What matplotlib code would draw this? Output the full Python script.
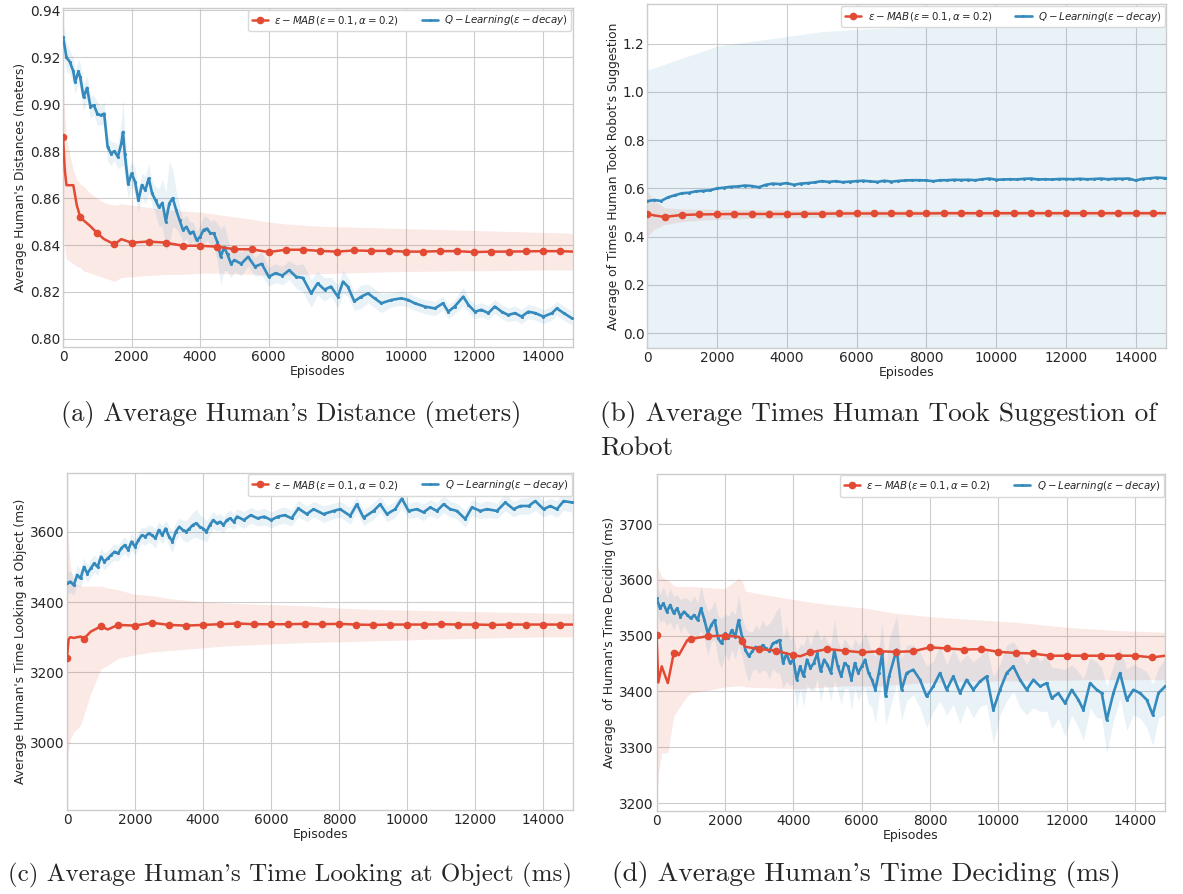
"""
Four-panel comparison of e-MAB and Q-Learning over training episodes
"""
import matplotlib
matplotlib.use('Agg')
import matplotlib.pyplot as plt
import numpy as np

RED = '#E24A33'
BLUE = '#348ABD'
MAB_LABEL = r'$\epsilon-MAB(\epsilon=0.1,\alpha=0.2)$'
QL_LABEL = r'$Q-Learning(\epsilon-decay)$'

# ---------------- (a) distance ----------------
a_red_x = [0, 50, 100, 300, 400, 500, 600, 800, 1000, 1200, 1500, 1700] + \
    list(range(2000, 15000, 500)) + [14880]
a_red_y = [0.886, 0.872, 0.8655, 0.8655, 0.857, 0.852, 0.8505, 0.848, 0.845, 0.8425, 0.8403, 0.8425,
           0.841, 0.8415, 0.841, 0.8397, 0.8397, 0.8393, 0.8382, 0.8382, 0.837, 0.838, 0.838, 0.8375,
           0.8372, 0.8377, 0.8375, 0.8375, 0.8372, 0.8372, 0.8374, 0.8374, 0.837, 0.8372, 0.8372,
           0.8373, 0.8374, 0.8374, 0.8372]
a_red_hi = [0.91, 0.895, 0.885, 0.872, 0.868, 0.866, 0.865, 0.862, 0.860, 0.858, 0.857, 0.8575,
            0.857, 0.856, 0.855, 0.8545, 0.854, 0.853, 0.852, 0.851, 0.8498, 0.849, 0.8485, 0.848,
            0.8478, 0.8476, 0.8474, 0.8472, 0.847, 0.8468, 0.8466, 0.8464, 0.8462, 0.846, 0.8458,
            0.8456, 0.8454, 0.8452, 0.845]
a_red_lo = [0.85, 0.838, 0.834, 0.832, 0.831, 0.8305, 0.829, 0.828, 0.827, 0.826, 0.8245, 0.8262,
            0.8265, 0.827, 0.8275, 0.8275, 0.828, 0.828, 0.8276, 0.8276, 0.8272, 0.8272, 0.8275,
            0.8278, 0.828, 0.8282, 0.8284, 0.8286, 0.8287, 0.8288, 0.8289, 0.829, 0.829, 0.8291,
            0.8292, 0.8293, 0.8294, 0.8294, 0.8294]
a_blue_x = [0, 100, 200, 300, 350, 450, 500, 600, 700, 800, 900, 1000, 1100, 1200, 1300, 1400,
            1500, 1600, 1700, 1750, 1800, 1900, 2000, 2100, 2200, 2300, 2400, 2500, 2600, 2700,
            2800, 2900, 3000, 3100, 3200, 3300, 3400, 3500, 3600, 3700, 3800, 3900, 4000, 4100,
            4200, 4300, 4400, 4500, 4600, 4700, 4800, 4900, 5000, 5200, 5400, 5600, 5800, 6000,
            6200, 6400, 6600, 6800, 7000, 7240, 7430, 7630, 7820, 8020, 8170, 8310, 8500, 8700,
            8900, 9090, 9290, 9580, 9870, 10070, 10260, 10550, 10850, 11090, 11240, 11430, 11680,
            11830, 12020, 12210, 12410, 12600, 12800, 12990, 13190, 13380, 13580, 13780, 14020,
            14270, 14410, 14610, 14850]
a_blue_y = [0.9287, 0.920, 0.918, 0.914, 0.9095, 0.914, 0.9116, 0.903, 0.907, 0.8989,
            0.8996, 0.896, 0.8953, 0.896, 0.8818, 0.879, 0.880, 0.8776, 0.8833, 0.8882,
            0.879, 0.866, 0.8705, 0.867, 0.859, 0.8656, 0.8634, 0.8684, 0.862, 0.859,
            0.856, 0.858, 0.850, 0.8577, 0.860, 0.855, 0.8506, 0.8464, 0.8478, 0.845,
            0.8457, 0.842, 0.8435, 0.8464, 0.847, 0.845, 0.845, 0.8414, 0.835, 0.839,
            0.836, 0.832, 0.8336, 0.832, 0.835, 0.8308, 0.832, 0.8265, 0.828, 0.827,
            0.8293, 0.8265, 0.826, 0.8194, 0.8237, 0.821, 0.8223, 0.818, 0.8244, 0.8223,
            0.816, 0.818, 0.8194, 0.8173, 0.8152, 0.8166, 0.8173, 0.8166, 0.8152, 0.8138,
            0.813, 0.8152, 0.8116, 0.8138, 0.818, 0.8145, 0.8116, 0.8124, 0.811, 0.8138,
            0.8116, 0.8102, 0.811, 0.8095, 0.8116, 0.811, 0.8095, 0.811, 0.813, 0.811, 0.8088]
a_blue_err = [0.006, 0.006, 0.005, 0.006, 0.005, 0.005, 0.006, 0.006, 0.005, 0.005,
              0.004, 0.005, 0.004, 0.005, 0.006, 0.005, 0.004, 0.005, 0.010, 0.014,
              0.010, 0.006, 0.005, 0.006, 0.005, 0.005, 0.006, 0.006, 0.005, 0.006,
              0.008, 0.010, 0.012, 0.018, 0.012, 0.008, 0.006, 0.005, 0.005, 0.005,
              0.004, 0.004, 0.005, 0.006, 0.005, 0.005, 0.006, 0.008, 0.012, 0.010,
              0.007, 0.006, 0.005, 0.005, 0.004, 0.004, 0.005, 0.004, 0.004, 0.004,
              0.004, 0.005, 0.006, 0.006, 0.005, 0.005, 0.004, 0.005, 0.005, 0.004,
              0.004, 0.005, 0.004, 0.004, 0.004, 0.003, 0.003, 0.003, 0.003, 0.003,
              0.003, 0.003, 0.003, 0.003, 0.004, 0.003, 0.003, 0.003, 0.003, 0.003,
              0.003, 0.003, 0.003, 0.003, 0.003, 0.003, 0.003, 0.003, 0.003, 0.003, 0.003]

# ---------------- (b) took suggestion ----------------
b_red_x = [0, 200, 500, 1000] + list(range(1500, 15000, 500)) + [14880]
b_red_y = [0.495, 0.488, 0.482, 0.490,
           0.492, 0.493, 0.494, 0.494, 0.494, 0.494, 0.495, 0.495, 0.496, 0.496, 0.496, 0.496,
           0.496, 0.496, 0.497, 0.497, 0.497, 0.497, 0.497, 0.497, 0.497, 0.497, 0.497, 0.497,
           0.497, 0.497, 0.497, 0.497]
b_red_hi = [0.59, 0.55, 0.52, 0.515,
            0.514, 0.513, 0.512, 0.512, 0.511, 0.511, 0.511, 0.511, 0.511, 0.511, 0.511, 0.510,
            0.510, 0.510, 0.510, 0.510, 0.510, 0.510, 0.510, 0.510, 0.510, 0.510, 0.510, 0.510,
            0.510, 0.510, 0.510, 0.510]
b_red_lo = [0.40, 0.43, 0.45, 0.462,
            0.468, 0.472, 0.474, 0.476, 0.477, 0.478, 0.479, 0.480, 0.481, 0.481, 0.482, 0.482,
            0.483, 0.483, 0.484, 0.484, 0.484, 0.484, 0.485, 0.485, 0.485, 0.485, 0.485, 0.485,
            0.485, 0.485, 0.485, 0.485]
b_blue_x = list(range(0, 15000, 200)) + [14880]
b_blue_y = [0.547, 0.552, 0.548, 0.563, 0.572, 0.580, 0.582, 0.588, 0.590, 0.592,
            0.600, 0.603, 0.607, 0.608, 0.612, 0.610, 0.605, 0.615, 0.620, 0.618,
            0.622, 0.615, 0.620, 0.622, 0.625, 0.630, 0.627, 0.630, 0.626, 0.628,
            0.630, 0.632, 0.629, 0.627, 0.632, 0.628, 0.631, 0.633, 0.634, 0.634,
            0.633, 0.630, 0.634, 0.634, 0.636, 0.635, 0.636, 0.634, 0.638, 0.641,
            0.636, 0.637, 0.638, 0.637, 0.640, 0.641, 0.637, 0.638, 0.637, 0.639,
            0.639, 0.638, 0.640, 0.638, 0.639, 0.641, 0.638, 0.640, 0.640, 0.641,
            0.633, 0.640, 0.642, 0.645, 0.643, 0.642]
b_band_x = list(range(0, 15000, 1000)) + [14880]
b_band_hi = [1.09, 1.14, 1.19, 1.21, 1.23, 1.25, 1.26, 1.265, 1.27, 1.275, 1.278, 1.28,
             1.28, 1.28, 1.282, 1.283]
b_band_lo = [-0.1, -0.1, -0.1, -0.1, -0.1, -0.1, -0.1, -0.1, -0.1, -0.1, -0.1, -0.1,
             -0.1, -0.1, -0.1, -0.1]

# ---------------- (c) looking at object ----------------
c_red_x = [0, 50, 100, 200, 400, 500, 700, 1000, 1200] + list(range(1500, 15000, 500)) + [14880]
c_red_y = [3242, 3295, 3300, 3298, 3302, 3296, 3316, 3331, 3322,
           3335, 3333, 3341, 3335, 3333, 3335, 3337, 3339, 3337, 3337, 3337, 3338, 3337, 3338,
           3336, 3335, 3336, 3336, 3336, 3337, 3336, 3336, 3335, 3336, 3336, 3336, 3336, 3336]
c_red_hi = [3650, 3560, 3500, 3455, 3445, 3445, 3445, 3445, 3440,
            3435, 3422, 3418, 3410, 3405, 3400, 3398, 3396, 3394, 3393, 3391, 3389, 3386, 3383,
            3381, 3379, 3378, 3377, 3376, 3375, 3374, 3373, 3372, 3371, 3370, 3369, 3368, 3368]
c_red_lo = [2920, 2980, 3010, 3030, 3050, 3080, 3140, 3210, 3220,
            3240, 3250, 3258, 3262, 3266, 3270, 3274, 3277, 3279, 3281, 3283, 3285, 3286, 3287,
            3288, 3290, 3291, 3292, 3294, 3295, 3296, 3297, 3298, 3299, 3300, 3301, 3301, 3301]
c_blue_x = list(range(0, 5100, 100)) + list(range(5200, 7000, 200)) + \
    [7050, 7245, 7540, 7834, 8030, 8324, 8520, 8716, 9010, 9206, 9402, 9647, 9843, 10039,
     10284, 10480, 10676, 10872, 11068, 11264, 11460, 11705, 11901, 12146, 12342, 12636,
     12881, 13126, 13322, 13567, 13763, 14008, 14204, 14400, 14596, 14841]
c_blue_y = [3453, 3458, 3448, 3477, 3467, 3500, 3481, 3496, 3510, 3500,
            3529, 3515, 3524, 3534, 3543, 3538, 3553, 3562, 3548, 3572,
            3557, 3576, 3590, 3586, 3595, 3590, 3581, 3605, 3590, 3609,
            3586, 3572, 3600, 3614, 3605, 3600, 3609, 3619, 3624, 3614,
            3609, 3600, 3619, 3633, 3624, 3628, 3619, 3633, 3638, 3628,
            3643, 3633, 3647, 3638, 3643, 3633, 3643, 3647, 3638, 3666,
            3650, 3664, 3650, 3659, 3664, 3645, 3678, 3640, 3659, 3678,
            3650, 3664, 3694, 3659, 3664, 3655, 3669, 3659, 3678, 3664,
            3659, 3636, 3669, 3659, 3664, 3659, 3683, 3664, 3673, 3673,
            3687, 3664, 3673, 3664, 3687, 3683]
c_blue_err = [32, 30, 28, 28, 26, 26, 25, 25, 25, 25,
              24, 24, 22, 22, 24, 22, 22, 24, 22, 24,
              22, 24, 22, 25, 24, 26, 28, 24, 26, 24,
              28, 30, 26, 24, 28, 30, 34, 36, 40, 36,
              32, 30, 26, 24, 22, 24, 22, 22, 24, 22,
              22, 24, 22, 22, 24, 22, 22, 24, 22, 24,
              22, 22, 24, 22, 22, 24, 22, 22, 24, 22,
              22, 24, 26, 22, 22, 24, 22, 22, 24, 22,
              22, 24, 22, 22, 24, 22, 24, 22, 22, 24,
              26, 22, 22, 24, 26, 28]

# ---------------- (d) time deciding ----------------
d_red_x = [0, 50, 150, 330, 500, 600, 650, 900, 1000, 1500, 2000, 2400, 2500, 2600, 3000,
           3500, 4000, 4200] + list(range(4500, 15000, 500)) + [14880]
d_red_y = [3501, 3416, 3445, 3415, 3468, 3470, 3465, 3492, 3494, 3499, 3500, 3498, 3490, 3480,
           3476, 3473, 3465, 3463,
           3470, 3476, 3473, 3470, 3472, 3471, 3472, 3479, 3477, 3475, 3476, 3471, 3469, 3468,
           3464, 3464, 3464, 3464, 3464, 3464, 3461, 3464]
d_red_hi = [3640, 3620, 3605, 3600, 3590, 3588, 3588, 3588, 3588, 3586, 3584, 3603, 3598, 3580,
            3575, 3570, 3565, 3563,
            3560, 3556, 3553, 3550, 3545, 3540, 3537, 3534, 3532, 3530, 3528, 3526, 3524, 3521,
            3518, 3515, 3513, 3511, 3509, 3508, 3507, 3506]
d_red_lo = [3200, 3250, 3290, 3290, 3355, 3365, 3370, 3392, 3397, 3402, 3408, 3410, 3410, 3408,
            3407, 3406, 3405, 3405,
            3406, 3408, 3410, 3410, 3410, 3412, 3414, 3416, 3417, 3418, 3418, 3419, 3419, 3420,
            3420, 3420, 3421, 3421, 3421, 3421, 3421, 3421]
d_blue_x = list(range(0, 6900, 100)) + \
    [7022, 7169, 7315, 7510, 7705, 7900, 8095, 8290, 8485, 8680, 8875, 9070, 9266, 9461, 9656,
     9851, 10046, 10241, 10436, 10631, 10826, 11022, 11217, 11412, 11558, 11753, 11948, 12144,
     12339, 12485, 12680, 12875, 13022, 13168, 13363, 13558, 13753, 13948, 14144, 14339, 14515,
     14681, 14876]
d_blue_y = [3567, 3549, 3558, 3543, 3555, 3540, 3549, 3534, 3543, 3537,
            3531, 3537, 3528, 3549, 3528, 3504, 3519, 3528, 3495, 3486,
            3504, 3495, 3510, 3498, 3528, 3498, 3474, 3463, 3472, 3480,
            3472, 3483, 3477, 3472, 3486, 3489, 3492, 3451, 3468, 3451,
            3457, 3421, 3445, 3427, 3457, 3442, 3451, 3468, 3436, 3457,
            3448, 3433, 3474, 3445, 3427, 3451, 3445, 3421, 3451, 3433,
            3445, 3457, 3433, 3421, 3403, 3433, 3468, 3391, 3427,
            3475, 3403, 3433, 3439, 3421, 3391, 3409, 3433, 3403, 3427,
            3397, 3421, 3403, 3418, 3427, 3367, 3403, 3433, 3445, 3421,
            3403, 3421, 3409, 3415, 3388, 3397, 3379, 3403, 3385, 3367,
            3415, 3403, 3397, 3349, 3397, 3433, 3385, 3403, 3397, 3385,
            3358, 3397, 3409]
d_blue_err = [25, 25, 30, 25, 30, 30, 25, 30, 25, 30,
              30, 35, 30, 40, 35, 40, 30, 35, 40, 45,
              35, 40, 35, 40, 45, 35, 40, 45, 35, 40,
              40, 45, 40, 50, 45, 55, 60, 45, 50, 40,
              45, 50, 40, 55, 45, 40, 50, 45, 55, 45,
              40, 50, 55, 45, 50, 45, 40, 55, 45, 50,
              45, 50, 55, 50, 60, 45, 55, 50, 65,
              60, 55, 50, 45, 50, 55, 45, 50, 45, 50,
              55, 45, 50, 45, 50, 60, 45, 50, 45, 50,
              45, 50, 45, 50, 55, 45, 60, 45, 50, 55,
              45, 50, 45, 60, 50, 45, 55, 45, 45, 50,
              55, 45, 50]

x_ticks = [0, 2000, 4000, 6000, 8000, 10000, 12000, 14000]
x_max = 14880


def draw_panel(ax, red, red_band, blue, blue_band, ylabel, yticks, ylim, yfmt):
    """
    Draw one panel: red e-MAB curve with markers every 500 episodes and a
    jagged blue Q-Learning curve, each with its shaded band
    """
    red_x, red_y = red
    red_lo, red_hi = red_band
    ax.fill_between(red_x, red_lo, red_hi, color=RED, alpha=0.12, lw=0)
    ax.fill_between(*blue_band, color=BLUE, alpha=0.11, lw=0)
    marks = [i for i, x in enumerate(red_x) if x % 500 == 0]
    ax.plot(red_x, red_y, color=RED, lw=1.8, marker='o', ms=4.5,
            markevery=marks, label=MAB_LABEL, zorder=4)
    ax.plot(*blue, color=BLUE, lw=1.9, marker='.', ms=2.5,
            label=QL_LABEL, zorder=3)
    ax.set_xlim(0, x_max)
    ax.set_xticks(x_ticks)
    ax.set_ylim(*ylim)
    ax.set_yticks(yticks)
    ax.set_yticklabels([yfmt.format(v) for v in yticks])
    ax.tick_params(labelsize=9.8, colors='#262626', pad=2)
    ax.set_xlabel('Episodes', fontsize=9, labelpad=1)
    ax.set_ylabel(ylabel, fontsize=8.8, labelpad=2)
    ax.legend(loc='upper right', ncol=2, fontsize=7.4, frameon=True,
              facecolor='white', edgecolor='0.85', framealpha=1,
              borderaxespad=0.15, handlelength=1.6, columnspacing=2.2,
              handletextpad=0.6, borderpad=0.35)


plt.style.use('seaborn-v0_8-whitegrid')
plt.rcParams['font.family'] = ['DejaVu Sans']
fig = plt.figure(figsize=(11.83, 8.94), dpi=100)

ax_a = fig.add_axes([0.0533, 0.612, 0.431, 0.379])
ax_b = fig.add_axes([0.547, 0.611, 0.439, 0.384])
ax_c = fig.add_axes([0.0566, 0.094, 0.428, 0.377])
ax_d = fig.add_axes([0.555, 0.093, 0.430, 0.377])

a_blue_lo = np.array(a_blue_y) - np.array(a_blue_err)
a_blue_hi = np.array(a_blue_y) + np.array(a_blue_err)
draw_panel(ax_a, (a_red_x, a_red_y), (a_red_lo, a_red_hi),
           (a_blue_x, a_blue_y), (a_blue_x, a_blue_lo, a_blue_hi),
           "Average Human's Distances (meters)",
           [0.80, 0.82, 0.84, 0.86, 0.88, 0.90, 0.92, 0.94], (0.7966, 0.941), '{:.2f}')

draw_panel(ax_b, (b_red_x, b_red_y), (b_red_lo, b_red_hi),
           (b_blue_x, b_blue_y), (b_band_x, b_band_lo, b_band_hi),
           "Average of Times Human Took Robot's Suggestion",
           [0.0, 0.2, 0.4, 0.6, 0.8, 1.0, 1.2], (-0.061, 1.363), '{:.1f}')

c_blue_lo = np.array(c_blue_y) - np.array(c_blue_err)
c_blue_hi = np.array(c_blue_y) + np.array(c_blue_err)
draw_panel(ax_c, (c_red_x, c_red_y), (c_red_lo, c_red_hi),
           (c_blue_x, c_blue_y), (c_blue_x, c_blue_lo, c_blue_hi),
           "Average Human's Time Looking at Object (ms)",
           [3000, 3200, 3400, 3600], (2809, 3767), '{:d}')

d_blue_lo = np.array(d_blue_y) - np.array(d_blue_err)
d_blue_hi = np.array(d_blue_y) + np.array(d_blue_err)
draw_panel(ax_d, (d_red_x, d_red_y), (d_red_lo, d_red_hi),
           (d_blue_x, d_blue_y), (d_blue_x, d_blue_lo, d_blue_hi),
           "Average  of Human's Time Deciding (ms)",
           [3200, 3300, 3400, 3500, 3600, 3700], (3186, 3790), '{:d}')

# sub-figure captions, LaTeX-like serif
cap = dict(fontfamily='cmr10', va='center')
fig.text(291 / 1183, 1 - 415 / 894, "(a) Average Human's Distance (meters)",
         ha='center', fontsize=19, **cap)
fig.text(600 / 1183, 1 - 415 / 894, "(b) Average Times Human Took Suggestion of",
         ha='left', fontsize=19.6, **cap)
fig.text(600 / 1183, 1 - 449 / 894, "Robot", ha='left', fontsize=19.6, **cap)
fig.text(290 / 1183, 1 - 875 / 894, "(c) Average Human's Time Looking at Object (ms)",
         ha='center', fontsize=18.0, **cap)
fig.text(866 / 1183, 1 - 875 / 894, "(d) Average Human's Time Deciding (ms)",
         ha='center', fontsize=19.8, **cap)

fig.savefig('out.png', dpi=100)
